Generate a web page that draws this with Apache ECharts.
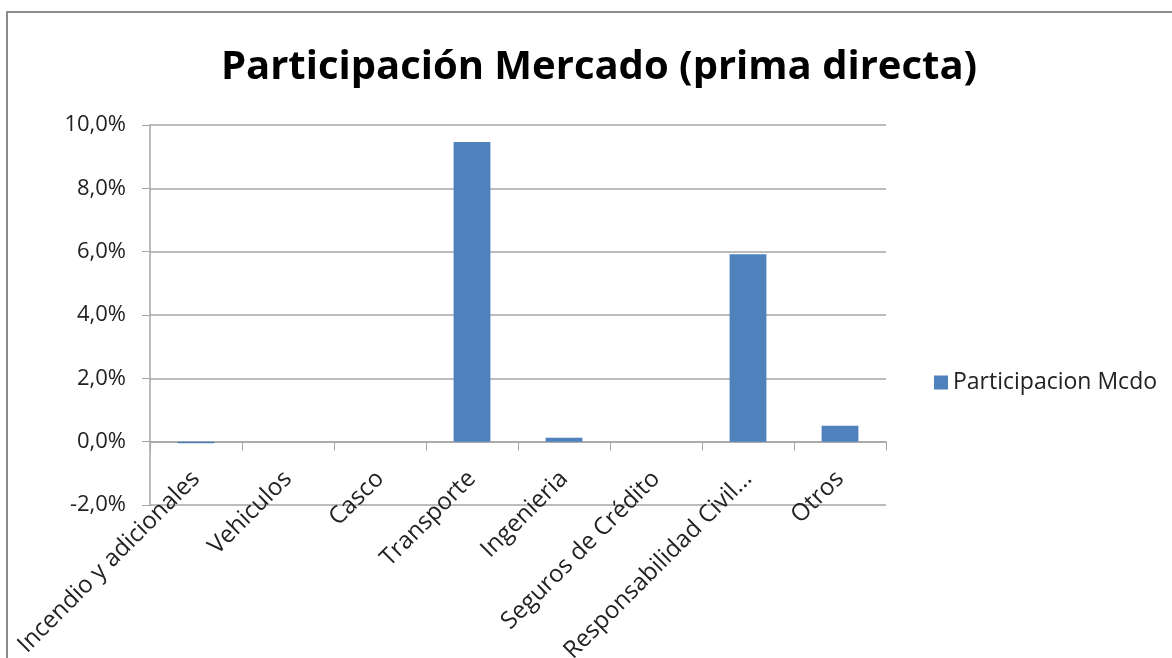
<html>
<head>
    <meta http-equiv="Content-Type" content="text/html; charset=utf-8">
    <title>echarts</title>
</head>
<body style="margin:0;">
<div id="main" style="width:1172px;height:658px;"></div>
<script type="text/javascript" src="https://cdn.jsdelivr.net/npm/echarts@6/dist/echarts.min.js"></script>
<script type="text/javascript">
var categories = ["Incendio y adicionales", "Vehiculos", "Casco", "Transporte", "Ingenieria", "Seguros de Crédito", "Responsabilidad Civil...", "Otros"];
var participacion = [-0.0005, 0, 0, 0.0946, 0.0012, 0, 0.0592, 0.0050];
var yTicks = [-0.02, 0.10, 0.02];

var myChart = echarts.init(document.getElementById("main"));

var option = {
    backgroundColor: "#fff",
    textStyle: {fontFamily: "Open Sans"},
    graphic: [{
        type: "rect",
        shape: {x: 7, y: 12, width: 1200, height: 700},
        style: {fill: "none", stroke: "#8c8c8c", lineWidth: 2}
    }],
    title: {
        text: "Participación Mercado (prima directa)",
        left: 594, top: 43, textAlign: "center",
        textStyle: {fontSize: 40, fontWeight: "bold", color: "#000", fontFamily: "Open Sans"}
    },
    legend: {
        data: ["Participacion Mcdo"],
        left: 929, top: 366,
        itemWidth: 14, itemHeight: 14, itemGap: 6,
        icon: "rect",
        textStyle: {fontSize: 23, color: "#222"}
    },
    grid: {left: 150, right: 286, top: 125, bottom: 153, outerBoundsMode: "none"},
    xAxis: {
        type: "category",
        data: categories,
        axisLine: {onZero: true, lineStyle: {color: "#a6a6a6", width: 1.5}},
        axisTick: {show: true, length: 9, lineStyle: {color: "#a6a6a6"}},
        axisLabel: {rotate: 45, fontSize: 24, color: "#222", margin: -30, interval: 0}
    },
    yAxis: {
        type: "value",
        min: yTicks[0], max: yTicks[1], interval: yTicks[2],
        axisLine: {show: true, lineStyle: {color: "#a6a6a6", width: 1.5}},
        axisTick: {show: true, length: 8, lineStyle: {color: "#a6a6a6"}},
        splitLine: {lineStyle: {color: "#a6a6a6", width: 1.5}},
        axisLabel: {
            fontSize: 22, color: "#222", margin: 24,
            formatter: function (v) { return (v * 100).toFixed(1).replace(".", ",") + "%"; }
        }
    },
    series: [{
        name: "Participacion Mcdo",
        type: "bar",
        barWidth: "40%",
        data: participacion,
        itemStyle: {color: "#4f81bd"}
    }]
};
myChart.setOption(option);
</script>
</body>
</html>
